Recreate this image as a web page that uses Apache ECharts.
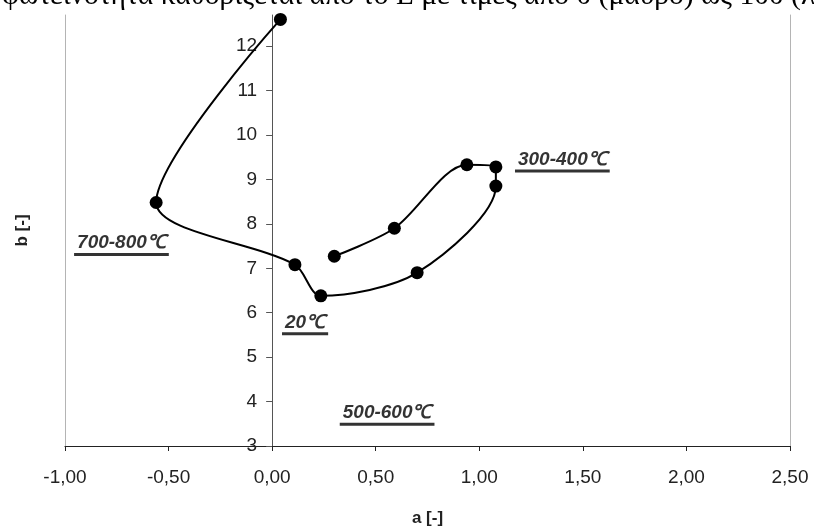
<!DOCTYPE html>
<html>
<head>
<meta charset="utf-8">
<script src="https://cdn.jsdelivr.net/npm/echarts@6/dist/echarts.min.js"></script>
<style>
  html, body { margin: 0; padding: 0; background: #fff; }
  #chart { width: 814px; height: 532px; }
</style>
</head>
<body>
<div id="chart"></div>
<script>
// Colour coordinates (a, b) along the heating path
const aValues = [0.04, -0.56, 0.11, 0.235, 0.70, 1.08, 1.08, 0.94, 0.59, 0.30];
const bValues = [12.6, 8.48, 7.08, 6.38, 6.90, 8.85, 9.28, 9.33, 7.90, 7.27];

// Temperature-range notes, positioned in (a, b) units
const noteTexts = ['700-800℃', '20℃', '300-400℃', '500-600℃'];
const noteA = [-0.7275, 0.159, 1.401, 0.555];
const noteB = [7.537, 5.75, 9.416, 3.717];

// Axis ticks
const xTicks = [-1, -0.5, 0, 0.5, 1, 1.5, 2, 2.5];
const yTicks = [3, 4, 5, 6, 7, 8, 9, 10, 11, 12];

const headingText = 'φωτεινότητα καθορίζεται από το L με τιμές από 0 (μαύρο) ως 100 (λευκό)';

const FONT = '"Liberation Sans", Arial, sans-serif';
const X_MIN = -1, X_MAX = 2.5, Y_MIN = 3, Y_MAX = 12.7;

const W = 814, GRID_LEFT = 65, GRID_RIGHT = 24;
const plotWidth = W - GRID_LEFT - GRID_RIGHT;
// the b axis crosses the a axis at a = 0
const bAxisShift = -(0 - X_MIN) / (X_MAX - X_MIN) * plotWidth;

// thin grey frame lines on the left and right of the plot
function frameAxis(position, extra) {
  return Object.assign({
    type: 'value', position: position, min: Y_MIN, max: Y_MAX,
    axisLine: { show: true, onZero: false, lineStyle: { color: '#b4b4b4', width: 1 } },
    axisTick: { show: false }, axisLabel: { show: false }, splitLine: { show: false }
  }, extra || {});
}

const chart = echarts.init(document.getElementById('chart'), null, { renderer: 'canvas' });

chart.setOption({
  animation: false,
  backgroundColor: '#fff',
  grid: { left: GRID_LEFT, right: GRID_RIGHT, top: 15, bottom: 81 },
  graphic: [{
    type: 'text', x: 2, y: -19, silent: true,
    style: { text: headingText, font: '29.5px "Liberation Serif", "Times New Roman", serif', fill: '#000' }
  }],
  xAxis: {
    type: 'value', min: X_MIN, max: X_MAX, interval: 0.5,
    axisLine: { onZero: false, lineStyle: { color: '#222', width: 1.2 } },
    axisTick: { show: true, length: 5, customValues: xTicks, lineStyle: { color: '#222' } },
    axisLabel: {
      customValues: xTicks, fontSize: 19, fontFamily: FONT, color: '#222', margin: 22,
      formatter: v => v.toFixed(2).replace('.', ',')
    },
    splitLine: { show: false },
    name: 'a [-]', nameLocation: 'middle', nameGap: 64,
    nameTextStyle: { fontWeight: 'bold', fontSize: 17, fontFamily: FONT, color: '#222' }
  },
  yAxis: [
    {
      type: 'value', min: Y_MIN, max: Y_MAX, position: 'left', offset: bAxisShift,
      axisLine: { show: true, onZero: false, lineStyle: { color: '#555', width: 1 } },
      axisTick: { show: true, length: 6, customValues: yTicks, lineStyle: { color: '#555' } },
      axisLabel: { customValues: yTicks, fontSize: 19, fontFamily: FONT, color: '#222', margin: 15 },
      splitLine: { show: false }
    },
    frameAxis('left', {
      name: 'b [-]', nameLocation: 'middle', nameGap: 34,
      nameTextStyle: { fontWeight: 'bold', fontSize: 17, fontFamily: FONT, color: '#222' }
    }),
    frameAxis('right')
  ],
  series: [
    {
      type: 'line',
      data: aValues.map((a, i) => [a, bValues[i]]),
      smooth: 0.3,
      symbol: 'circle', symbolSize: 13,
      itemStyle: { color: '#000' },
      lineStyle: { color: '#000', width: 2 },
      z: 3
    },
    {
      type: 'scatter',
      data: noteTexts.map((t, i) => ({ name: t, value: [noteA[i], noteB[i]] })),
      symbolSize: 0,
      silent: true,
      label: {
        show: true, position: 'inside',
        formatter: p => '{t|' + p.name + '}\n{u|' + p.name + '}',
        rich: {
          t: { fontSize: 19, fontWeight: 'bold', fontStyle: 'italic', fontFamily: FONT,
               color: '#000', lineHeight: 20, align: 'center' },
          u: { fontSize: 19, fontWeight: 'bold', fontStyle: 'italic', fontFamily: FONT,
               color: 'transparent', backgroundColor: '#000', height: 3, lineHeight: 3,
               padding: [0, 3], align: 'center' }
        }
      }
    }
  ]
});
</script>
</body>
</html>
